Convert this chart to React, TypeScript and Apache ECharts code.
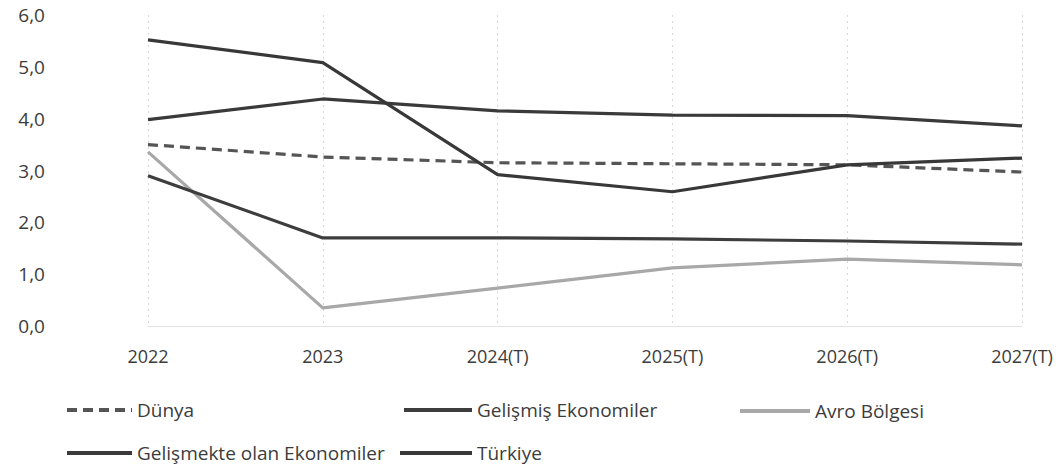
import React, { useEffect, useRef } from "react";
import * as echarts from "echarts";

const categories = ["2022", "2023", "2024(T)", "2025(T)", "2026(T)", "2027(T)"];
const dunya = [3.5, 3.26, 3.15, 3.13, 3.11, 2.97];
const gelismis = [2.9, 1.7, 1.7, 1.68, 1.64, 1.58];
const avro = [3.36, 0.35, 0.73, 1.12, 1.29, 1.18];
const gelismekte = [3.98, 4.38, 4.15, 4.07, 4.06, 3.86];
const turkiye = [5.52, 5.08, 2.92, 2.59, 3.11, 3.24];

const FONT = "'Open Sans', Lato, sans-serif";
const TXT = "#3c3c3c";

export default function App() {
  const ref = useRef<HTMLDivElement>(null);
  useEffect(() => {
    const chart = echarts.init(ref.current!, null, { renderer: "svg" });
    const mk = (name: string, data: number[], color: string, type: any = "solid") => ({
      name,
      type: "line",
      data,
      symbol: "none",
      lineStyle: { color, width: 3.2, type },
      itemStyle: { color },
      z: name === "Avro Bölgesi" ? 1 : 2,
    });
    const leg = (name: string, left: number, top: number, w: number) => ({
      data: [name],
      left,
      top,
      itemWidth: w,
      itemHeight: 14,
      itemGap: 0,
      padding: 0,
      itemStyle: { opacity: 0 },
      lineStyle: { width: 4 },
      textStyle: { fontFamily: FONT, fontSize: 19, color: TXT, lineHeight: 20 },
    });
    chart.setOption({
      animation: false,
      backgroundColor: "#fff",
      grid: { left: 148, right: 34, top: 15, bottom: 141 },
      xAxis: {
        type: "category",
        data: categories,
        boundaryGap: false,
        axisLine: { show: true, lineStyle: { color: "#e2e2e2", width: 1 } },
        axisTick: { show: false },
        axisLabel: { fontFamily: FONT, fontSize: 18, color: TXT, margin: 21 },
        splitLine: { show: true, lineStyle: { color: "#d8d8d8", type: [2, 4], width: 1 } },
      },
      yAxis: {
        type: "value",
        min: 0,
        max: 6,
        interval: 1,
        axisLine: { show: false },
        axisTick: { show: false },
        splitLine: { show: false },
        axisLabel: {
          fontFamily: FONT,
          fontSize: 19,
          color: TXT,
          margin: 103,
          formatter: (v: number) => v.toFixed(1).replace(".", ","),
        },
      },
      legend: [
        leg("Dünya", 65, 400, 65),
        leg("Gelişmiş Ekonomiler", 402, 400, 68),
        leg("Avro Bölgesi", 738, 401, 70),
        leg("Gelişmekte olan Ekonomiler", 65, 443, 65),
        leg("Türkiye", 398, 443, 72),
      ],
      series: [
        mk("Dünya", dunya, "#555555", [10, 6]),
        mk("Gelişmiş Ekonomiler", gelismis, "#3d3d3d"),
        mk("Avro Bölgesi", avro, "#a8a8a8"),
        mk("Gelişmekte olan Ekonomiler", gelismekte, "#3a3a3a"),
        mk("Türkiye", turkiye, "#383838"),
      ],
    });
    return () => chart.dispose();
  }, []);
  return <div ref={ref} style={{ width: 1056, height: 467, position: "absolute", left: 0, top: 0 }} />;
}
